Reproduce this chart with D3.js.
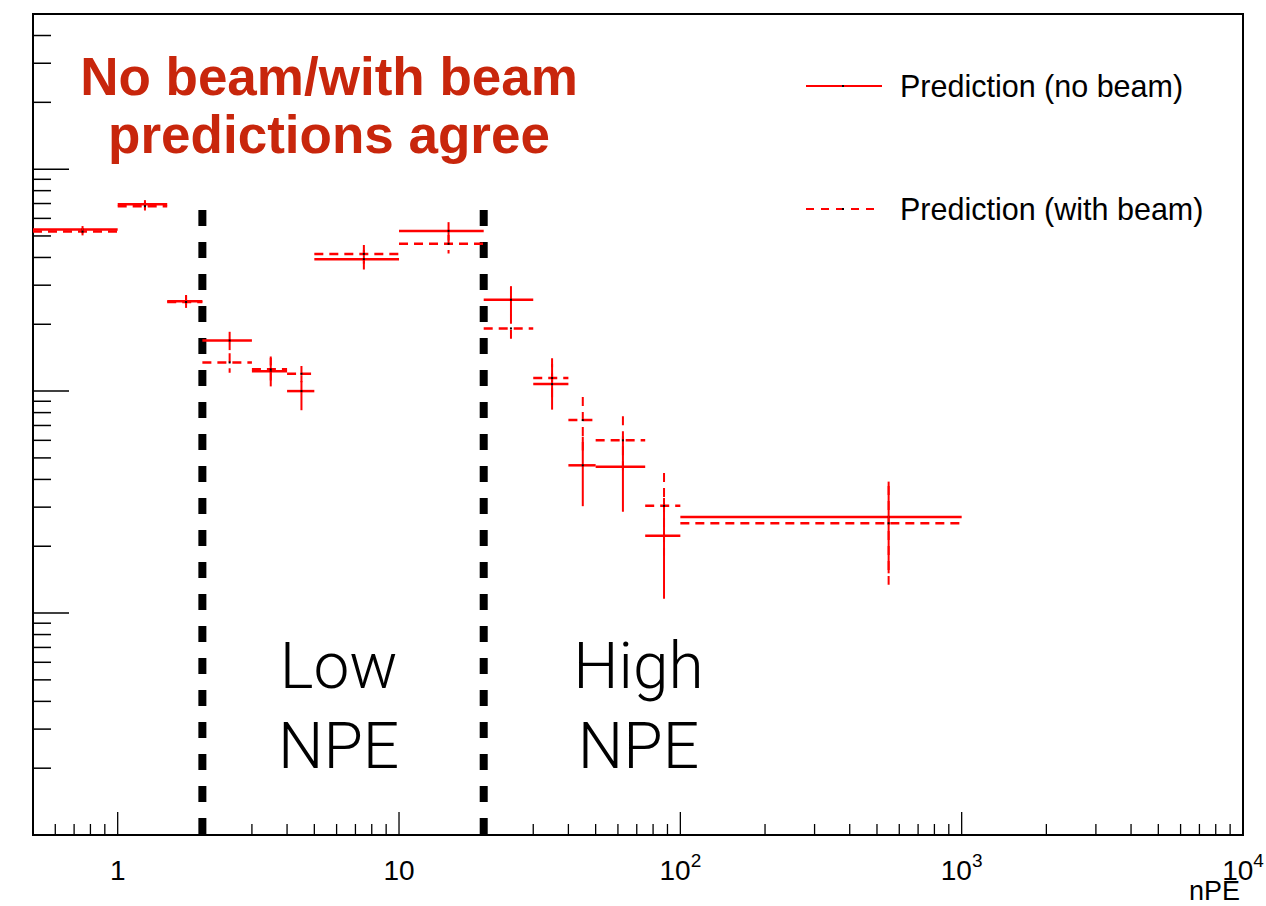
<!DOCTYPE html>
<html>
<head>
<meta charset="utf-8">
<script src="https://cdn.jsdelivr.net/npm/d3@7"></script>
<style>
  html, body { margin: 0; padding: 0; background: #fff; }
  svg { display: block; }
</style>
</head>
<body>
<svg id="chart" width="1266" height="906"></svg>
<script>
// ---- data ----
const binLo = [0.5, 1, 1.5, 2, 3, 4, 5, 10, 20, 30, 40, 50, 75, 100];
const binHi = [1, 1.5, 2, 3, 4, 5, 10, 20, 30, 40, 50, 75, 100, 1000];
const noBeam      = [534, 695, 254, 169, 123, 100, 393, 527, 258, 107.5, 46.3, 45.6, 22.3, 27.1];
const noBeamErr   = [20, 30, 17, 16, 18, 18, 40, 50, 39, 25, 16, 17, 10.7, 12];
const withBeam    = [523, 681, 252, 134.6, 125.3, 119.7, 415, 461, 191.6, 114.5, 74, 60, 30.4, 25.4];
const withBeamErr = [20, 30, 17, 13.5, 18, 10, 40, 44, 29, 26, 20, 17, 12.3, 12];
const regionCuts = [2, 20];
const regionCutTop = 655;
const xMajorTicks = [1, 10, 100, 1000, 10000];
const xTickLabels = [["1", ""], ["10", ""], ["10", "2"], ["10", "3"], ["10", "4"]];
const yMajorTicks = [1, 10, 100, 1000];
const legendLabels = ["Prediction (no beam)", "Prediction (with beam)"];
const titleLines = ["No beam/with beam", "predictions agree"];
const regionLabels = [["Low", "NPE"], ["High", "NPE"]];
const regionLabelX = [6.1, 71];

// ---- layout ----
const svg = d3.select("#chart");
const L = 33, R = 1243, T = 14, B = 835;
const x = d3.scaleLog().domain([0.5, 10000]).range([L, R]);
const y = d3.scaleLog().domain([1, 5000]).range([B, T]);
const RED = "#ff0000";
const FONT = "'Liberation Sans', Arial, Helvetica, sans-serif";

// frame
svg.append("rect").attr("x", L).attr("y", T).attr("width", R - L).attr("height", B - T)
  .attr("fill", "none").attr("stroke", "#000").attr("stroke-width", 2);

// x ticks
const xMinor = [];
for (let e = -1; e <= 3; e++) for (let m = 1; m <= 9; m++) {
  const v = m * Math.pow(10, e);
  if (v > 0.5 && v < 10000 && m !== 1) xMinor.push(v);
}
svg.append("g").selectAll("line").data(xMinor).join("line")
  .attr("x1", d => x(d)).attr("x2", d => x(d)).attr("y1", B).attr("y2", B - 11)
  .attr("stroke", "#000").attr("stroke-width", 1.3);
svg.append("g").selectAll("line").data(xMajorTicks).join("line")
  .attr("x1", d => x(d)).attr("x2", d => x(d)).attr("y1", B).attr("y2", B - 23)
  .attr("stroke", "#000").attr("stroke-width", 1.3);

// x tick labels
const xl = svg.append("g").selectAll("text").data(xMajorTicks).join("text")
  .attr("x", d => x(d)).attr("y", 880)
  .attr("text-anchor", "middle").attr("font-family", FONT).attr("font-size", 28).attr("fill", "#000");
xl.each(function(d, i) {
  const t = d3.select(this);
  t.append("tspan").text(xTickLabels[i][0]);
  if (xTickLabels[i][1]) t.append("tspan").attr("dy", -13).attr("font-size", 19).text(xTickLabels[i][1]);
});
svg.append("text").attr("x", 1240).attr("y", 900).attr("text-anchor", "end")
  .attr("font-family", FONT).attr("font-size", 27).text("nPE");

// y ticks
const yMinor = [];
for (let e = 0; e <= 3; e++) for (let m = 2; m <= 9; m++) {
  const v = m * Math.pow(10, e);
  if (v <= 5000) yMinor.push(v);
}
svg.append("g").selectAll("line").data(yMinor).join("line")
  .attr("x1", L).attr("x2", L + 18).attr("y1", d => y(d)).attr("y2", d => y(d))
  .attr("stroke", "#000").attr("stroke-width", 1.5);
svg.append("g").selectAll("line").data(yMajorTicks).join("line")
  .attr("x1", L).attr("x2", L + 36).attr("y1", d => y(d)).attr("y2", d => y(d))
  .attr("stroke", "#000").attr("stroke-width", 1.5);

// region cut lines
svg.append("g").selectAll("line").data(regionCuts).join("line")
  .attr("x1", d => x(d)).attr("x2", d => x(d)).attr("y1", y(regionCutTop)).attr("y2", y(1))
  .attr("stroke", "#000").attr("stroke-width", 8).attr("stroke-dasharray", "16,16");

// series
function drawSeries(vals, errs, dashed) {
  const g = svg.append("g");
  const idx = d3.range(vals.length);
  const dash = dashed ? "9,6" : null;
  g.selectAll("line.h").data(idx).join("line").attr("class", "h")
    .attr("x1", i => x(binLo[i])).attr("x2", i => x(binHi[i]))
    .attr("y1", i => y(vals[i])).attr("y2", i => y(vals[i]))
    .attr("stroke", RED).attr("stroke-width", 2.5).attr("stroke-dasharray", dash);
  g.selectAll("line.v").data(idx).join("line").attr("class", "v")
    .attr("x1", i => x((binLo[i] + binHi[i]) / 2)).attr("x2", i => x((binLo[i] + binHi[i]) / 2))
    .attr("y1", i => y(vals[i] + errs[i])).attr("y2", i => y(Math.max(vals[i] - errs[i], 1.01)))
    .attr("stroke", RED).attr("stroke-width", 2).attr("stroke-dasharray", dash);
  g.selectAll("rect").data(idx).join("rect")
    .attr("x", i => x((binLo[i] + binHi[i]) / 2) - 1).attr("y", i => y(vals[i]) - 1)
    .attr("width", 2).attr("height", 2).attr("fill", "#000");
}
drawSeries(noBeam, noBeamErr, false);
drawSeries(withBeam, withBeamErr, true);

// legend
const leg = svg.append("g");
[0, 1].forEach(k => {
  const ly = k === 0 ? 86 : 209;
  leg.append("line").attr("x1", 806).attr("x2", k === 0 ? 882 : 878).attr("y1", ly).attr("y2", ly)
    .attr("stroke", RED).attr("stroke-width", 2).attr("stroke-dasharray", k === 0 ? null : "8,7");
  leg.append("rect").attr("x", 842).attr("y", ly - 1).attr("width", 2).attr("height", 2).attr("fill", "#000");
  leg.append("text").attr("x", 900).attr("y", ly + 11).attr("font-family", FONT)
    .attr("font-size", 30.5).attr("fill", "#000").text(legendLabels[k]);
});

// title
svg.append("g").selectAll("text").data(titleLines).join("text")
  .attr("x", 329).attr("y", (d, i) => i === 0 ? 95 : 153)
  .attr("text-anchor", "middle").attr("font-family", FONT).attr("font-weight", "bold")
  .attr("font-size", 53).attr("fill", "#c8260c").text(d => d);

// region labels
regionLabels.forEach((lines, k) => {
  svg.append("g").selectAll("text").data(lines).join("text")
    .attr("x", x(regionLabelX[k])).attr("y", (d, i) => i === 0 ? 688 : 768)
    .attr("text-anchor", "middle").attr("font-family", "Roboto, 'Liberation Sans', sans-serif")
    .attr("font-weight", 300).attr("font-size", 64).attr("fill", "#000").text(d => d);
});
</script>
</body>
</html>
